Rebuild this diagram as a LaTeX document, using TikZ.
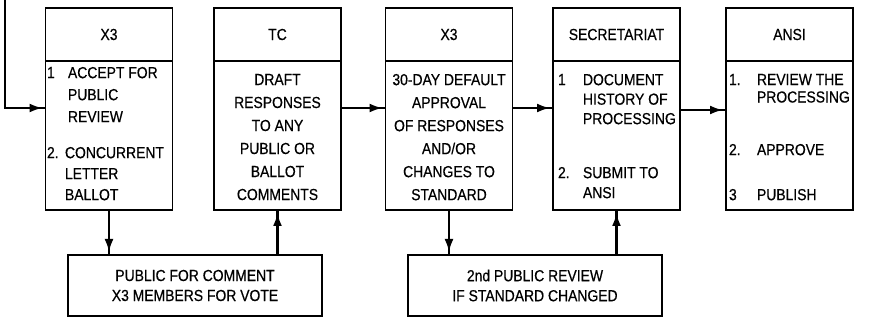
\documentclass[tikz,border=0pt]{standalone}
\usepackage{fontspec}
\setmainfont[FakeStretch=0.87,FakeBold=0.5]{Liberation Sans}
\usetikzlibrary{decorations.markings,arrows.meta}
\begin{document}
\begin{tikzpicture}[x=1pt,y=-1pt,
  boxpart/.style={draw,line width=1.8pt,inner sep=0pt,outer sep=0pt,minimum width=127pt},
  head/.style={boxpart,minimum height=53pt,font=\fontsize{16}{22}\selectfont},
  body/.style={boxpart,minimum height=149pt},
  lower/.style={draw,line width=1.8pt,inner sep=0pt,outer sep=0pt,minimum width=254pt,minimum height=61pt,align=center,font=\fontsize{16}{20}\selectfont},
  txt/.style={inner sep=0pt,outer sep=0pt,anchor=north west,align=left,font=\fontsize{16}{22}\selectfont},
  ctxt/.style={inner sep=0pt,outer sep=0pt,anchor=north,align=center,font=\fontsize{16}{23}\selectfont},
  arr/.style={line width=2.4pt,postaction={decorate},
    decoration={markings,mark=at position -3pt with {\arrow{Latex[length={13pt 0 0},width={9pt 0 0}]}}}}
]
\useasboundingbox (0,0) rectangle (876,320);

% boxes
\node[head] (h1) at (109,34.5) {X3};
\node[body] (p1) at (109,135.5) {};
\node[head] (h2) at (277.5,34.5) {TC};
\node[body] (p2) at (277.5,135.5) {};
\node[head] (h3) at (449,34.5) {X3};
\node[body] (p3) at (449,135.5) {};
\node[head] (h4) at (616.5,34.5) {SECRETARIAT};
\node[body] (p4) at (616.5,135.5) {};
\node[head] (h5) at (789.5,34.5) {ANSI};
\node[body] (p5) at (789.5,135.5) {};

\node[lower] (q1) at (195,285.5) {PUBLIC FOR COMMENT\\X3 MEMBERS FOR VOTE};
\node[lower] (q2) at (535,285.5) {2nd PUBLIC REVIEW\\IF STANDARD CHANGED};

% box 1 text
\node[txt] (n11) at (47,67) {1};
\node[txt] (t11) at (68,67) {ACCEPT FOR\\PUBLIC\\REVIEW};
\node[txt] (n12) at (47,147) {2.};
\node[txt,font=\fontsize{16}{21}\selectfont] (t12) at (65,147) {CONCURRENT\\LETTER\\BALLOT};

% box 2 and 3 text
\node[ctxt] (t2) at (277.5,74) {DRAFT\\RESPONSES\\TO ANY\\PUBLIC OR\\BALLOT\\COMMENTS};
\node[ctxt] (t3) at (449,74) {30-DAY DEFAULT\\APPROVAL\\OF RESPONSES\\AND/OR\\CHANGES TO\\STANDARD};

% box 4 text
\node[txt] (n41) at (558,74) {1};
\node[txt,font=\fontsize{16}{19.5}\selectfont] (t41) at (583,74) {DOCUMENT\\HISTORY OF\\PROCESSING};
\node[txt] (n42) at (558,167) {2.};
\node[txt,font=\fontsize{16}{20}\selectfont] (t42) at (583,167) {SUBMIT TO\\ANSI};

% box 5 text
\node[txt] (n51) at (729,74) {1.};
\node[txt,font=\fontsize{16}{17.5}\selectfont] (t51) at (757,74) {REVIEW THE\\PROCESSING};
\node[txt] (n52) at (729,144) {2.};
\node[txt] (t52) at (757,144) {APPROVE};
\node[txt] (n53) at (729,189) {3};
\node[txt] (t53) at (757,189) {PUBLISH};

% connectors
\coordinate (row) at (0,108);
\coordinate (row5) at (0,110);
\coordinate (in) at (5,-2);
\draw[arr] (in) |- (p1.west |- row);
\draw[arr] (p2.east |- row) -- (p3.west |- row);
\draw[arr] (p3.east |- row) -- (p4.west |- row);
\draw[arr] (p4.east |- row5) -- (p5.west |- row5);
\draw[arr] (p1.south) -- (p1.south |- q1.north);
\draw[arr] (p2.south |- q1.north) -- (p2.south);
\draw[arr] (p3.south) -- (p3.south |- q2.north);
\draw[arr] (p4.south |- q2.north) -- (p4.south);
\end{tikzpicture}
\end{document}
